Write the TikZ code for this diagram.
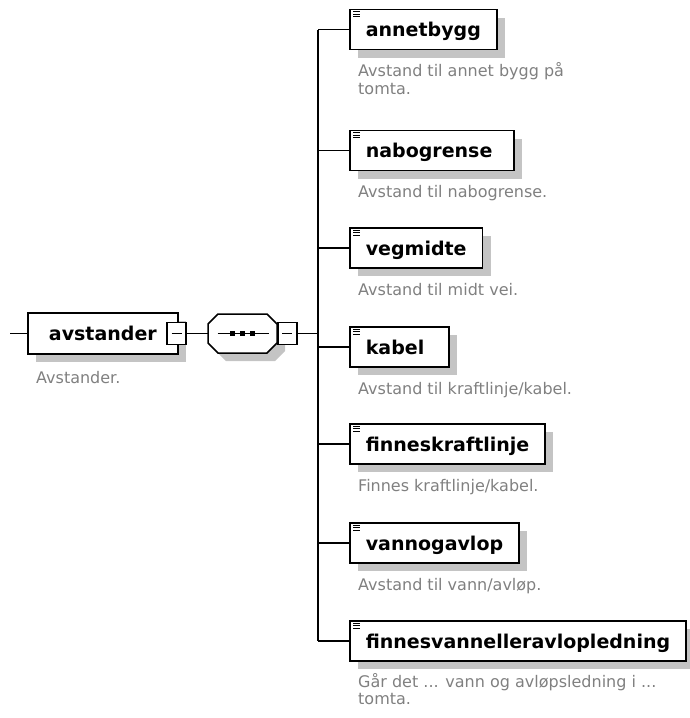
\documentclass[tikz,border=0pt]{standalone}
\usepackage{fontspec}
\setmainfont{DejaVu Sans}
\usetikzlibrary{shadows}
\definecolor{shadowc}{RGB}{196,196,196}
\definecolor{descc}{RGB}{128,128,128}
\newcommand\namefont{\bfseries\fontsize{19pt}{22pt}\selectfont}
\newcommand\descfont{\fontsize{16pt}{17.5pt}\selectfont}
\begin{document}
\begin{tikzpicture}[x=1pt,y=-1pt,
  conn/.style={line width=1.5pt},
  boxshadow/.style={drop shadow={shadow xshift=8pt,shadow yshift=-8pt,fill=shadowc,opacity=1}},
  namebox/.style={draw,line width=1.7pt,fill=white,boxshadow,minimum height=40pt,
    inner xsep=16pt,inner ysep=0pt,text height=18pt,text depth=4pt,font=\namefont,anchor=west},
  minusbox/.style={draw,line width=1.3pt,fill=white,minimum width=19pt,minimum height=22pt,inner sep=0pt},
  seqnode/.style={minimum width=69pt,minimum height=39pt,inner sep=0pt},
  desc/.style={font=\descfont,text=descc,anchor=base west,inner sep=0pt,align=left},
  iconline/.style={line width=0.8pt}]
\useasboundingbox (0,0) rectangle (689,718);

% root
\node[namebox,minimum width=150pt,minimum height=41pt] (root) at (27,333.5) {avstander};
\coordinate (rootin) at (10,333.5);
\draw[conn] (rootin) -- (root.west);
\node[minusbox] (m1) at (176.5,333.5) {};
\draw[conn] ([xshift=-5pt]m1.center) -- ([xshift=5pt]m1.center);
\node[desc] (rootd) at (36,383) {Avstander.};

% sequence compositor
\node[seqnode] (seq) at (242.5,333.5) {};
\begin{scope}[shift={(seq.center)},xshift=8pt,yshift=-8pt]
  \fill[shadowc] (-24.5,-19.5) -- (24.5,-19.5) -- (34.5,-9.5) -- (34.5,9.5) -- (24.5,19.5) -- (-24.5,19.5) -- (-34.5,9.5) -- (-34.5,-9.5) -- cycle;
\end{scope}
\begin{scope}[shift={(seq.center)}]
  \draw[conn,fill=white] (-24.5,-19.5) -- (24.5,-19.5) -- (34.5,-9.5) -- (34.5,9.5) -- (24.5,19.5) -- (-24.5,19.5) -- (-34.5,9.5) -- (-34.5,-9.5) -- cycle;
  \draw[conn] (-25,0) -- (26,0);
  \foreach \sx in {-10,0,10} \fill (\sx-2.8,-2.8) rectangle (\sx+2.8,2.8);
\end{scope}
\draw[conn] (m1.east) -- (seq.west);
\node[minusbox,anchor=west] (m2) at (seq.east) {};
\draw[conn] ([xshift=-5pt]m2.center) -- ([xshift=5pt]m2.center);
\coordinate (bar) at (318,333.5);
\draw[conn] (m2.east) -- (bar);

% children
\node[namebox] (annet) at (349,29.5) {annetbygg};
\node[namebox,text width=132pt,align=left] (nabo) at (349,150.5) {nabogrense};
\node[namebox] (veg) at (349,248) {vegmidte};
\node[namebox,text width=67pt,align=left] (kabel) at (349,347) {kabel};
\node[namebox] (fkraft) at (349,444) {finneskraftlinje};
\node[namebox] (vann) at (349,543) {vannogavlop};
\node[namebox] (fvann) at (349,641) {finnesvannelleravlopledning};

\draw[conn] (bar |- annet.west) -- (bar |- fvann.west);
\foreach \n in {annet,nabo,veg,kabel,fkraft,vann,fvann}{
  \draw[conn] (bar |- \n.west) -- (\n.west);
  \foreach \dy in {3,5.5,8}
    \draw[iconline] ([xshift=4pt,yshift=-\dy pt]\n.north west) -- ++(7,0);
}

\node[desc] (annetd) at (358,94) {Avstand til annet bygg på\\tomta.};
\node[desc] (nabod) at (358,197.5) {Avstand til nabogrense.};
\node[desc] (vegd) at (358,295) {Avstand til midt vei.};
\node[desc] (kabeld) at (358,394) {Avstand til kraftlinje/kabel.};
\node[desc] (fkraftd) at (358,491) {Finnes kraftlinje/kabel.};
\node[desc] (vannd) at (358,590) {Avstand til vann/avløp.};
\node[desc] (fvannd) at (358,704.5) {Går det ... vann og avløpsledning i ...\\tomta.};
\end{tikzpicture}
\end{document}
